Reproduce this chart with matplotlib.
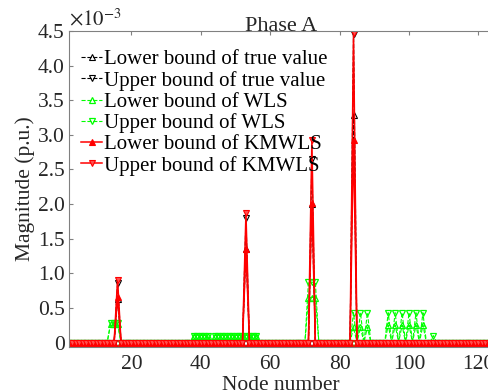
import matplotlib
matplotlib.use("Agg")
import matplotlib.pyplot as plt
import numpy as np

plt.rcParams['font.family'] = ['Liberation Serif', 'DejaVu Serif']
plt.rcParams['mathtext.fontset'] = 'stix'

# node numbers shown on the x axis
nodes = np.arange(2, 125)

# magnitudes in units of 1e-3 p.u.; nodes not listed sit at 0
true_lower_pts = {16: 0.63, 53: 1.35, 72: 2.00, 84: 3.28}
true_upper_pts = {16: 0.86, 53: 1.80, 72: 2.65, 84: 4.45}
wls_lower_pts = {14: 0.27, 15: 0.27, 16: 0.27,
                 38: 0.10, 39: 0.10, 40: 0.10, 41: 0.10, 42: 0.10,
                 44: 0.10, 45: 0.10, 46: 0.10, 47: 0.10, 48: 0.10, 49: 0.10,
                 50: 0.10, 51: 0.10, 52: 0.10, 53: 0.10, 54: 0.10, 55: 0.10, 56: 0.10,
                 71: 0.65, 72: 0.65, 73: 0.65,
                 84: 0.22, 86: 0.22, 88: 0.22,
                 94: 0.25, 96: 0.25, 98: 0.25, 100: 0.25, 102: 0.25, 104: 0.25}
wls_upper_pts = {14: 0.28, 15: 0.28, 16: 0.28,
                 38: 0.10, 39: 0.10, 40: 0.10, 41: 0.10, 42: 0.10,
                 44: 0.10, 45: 0.10, 46: 0.10, 47: 0.10, 48: 0.10, 49: 0.10,
                 50: 0.10, 51: 0.10, 52: 0.10, 53: 0.10, 54: 0.10, 55: 0.10, 56: 0.10,
                 71: 0.87, 72: 0.87, 73: 0.87,
                 84: 0.43, 86: 0.43, 88: 0.43,
                 94: 0.43, 96: 0.43, 98: 0.43, 100: 0.43, 102: 0.43, 104: 0.43,
                 107: 0.10}
kmwls_lower_pts = {16: 0.66, 53: 1.35, 72: 2.02, 84: 2.93}
kmwls_upper_pts = {16: 0.91, 53: 1.87, 72: 2.92, 84: 4.47}

yticks = [0, 0.5, 1.0, 1.5, 2.0, 2.5, 3.0, 3.5, 4.0, 4.5]
ytick_labels = ['0', '0.5', '1.0', '1.5', '2.0', '2.5', '3.0', '3.5', '4.0', '4.5']
xticks = [20, 40, 60, 80, 100, 120]


def series(pts):
    y = np.zeros(len(nodes))
    for k, v in pts.items():
        y[nodes == k] = v
    return y


fig = plt.figure(figsize=(4.89, 3.91), dpi=100)
ax = fig.add_axes([69 / 489, 44 / 391, 424 / 489, 316 / 391])

ms = 4.5
ax.plot(nodes, series(true_lower_pts), '--', color='k', lw=0.8, marker='^', ms=ms,
        mfc='none', mew=0.8, label='Lower bound of true value')
ax.plot(nodes, series(true_upper_pts), '--', color='k', lw=0.8, marker='v', ms=ms,
        mfc='none', mew=0.8, label='Upper bound of true value')
ax.plot(nodes, series(wls_lower_pts), '--', color='#00ff00', lw=0.8, marker='^', ms=ms,
        mfc='none', mew=0.9, label='Lower bound of WLS')
ax.plot(nodes, series(wls_upper_pts), '--', color='#00ff00', lw=0.8, marker='v', ms=ms,
        mfc='none', mew=0.9, label='Upper bound of WLS')
ax.plot(nodes, series(kmwls_lower_pts), '-', color='#ff0000', lw=1.1, marker='^', ms=ms,
        mfc='#ff0000', mew=0.8, label='Lower bound of KMWLS')
ax.plot(nodes, series(kmwls_upper_pts), '-', color='#ff0000', lw=1.1, marker='v', ms=ms,
        mfc='#ff5050', mew=0.8, label='Upper bound of KMWLS')

ax.set_xlim(2, 124.2)
ax.set_ylim(-0.065, 4.5)
ax.set_xticks(xticks)
ax.set_yticks(yticks)
ax.set_yticklabels(ytick_labels)
ax.tick_params(direction='in', length=3, width=0.8, colors='#808080',
               labelcolor='#262626', labelsize=15.5, top=True, right=True)
ax.tick_params(axis='x', pad=6)
ax.tick_params(axis='y', pad=3)
for s in ax.spines.values():
    s.set_color('#808080')
    s.set_linewidth(0.8)

ax.set_title('Phase A', fontsize=16, pad=0, color='#262626')
ax.set_xlabel('Node number', fontsize=15.5, color='#262626', labelpad=1)
ax.set_ylabel('Magnitude (p.u.)', fontsize=15.5, color='#262626', labelpad=2)
ax.text(0.0, 1.003, r'$\times10^{-3}$', transform=ax.transAxes, fontsize=15,
        color='#262626', ha='left', va='bottom')

ax.legend(loc='upper left', frameon=False, fontsize=15, handlelength=1.0,
          handletextpad=0.1, labelspacing=0.07, borderaxespad=0.2,
          bbox_to_anchor=(0.0, 0.98))

fig.savefig('out.png', dpi=100)
